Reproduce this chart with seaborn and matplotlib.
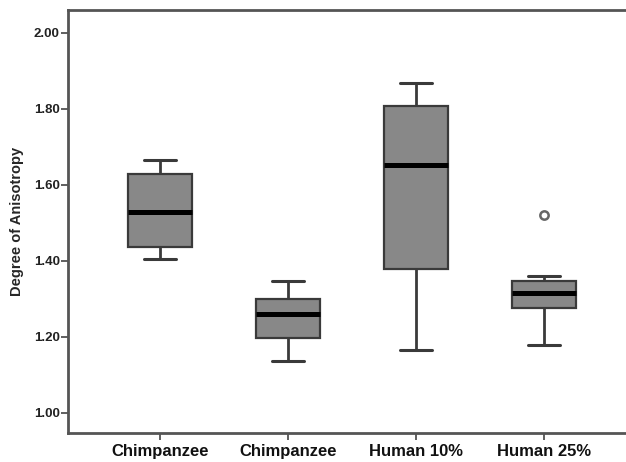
import pandas as pd
import seaborn as sns
import matplotlib.pyplot as plt

# Valores (resumo de cada caixa: min, Q1, mediana, Q3, max)
groups = ['Chimpanzee', 'Chimpanzee ', 'Human 10%', 'Human 25%']
tick_labels = ['Chimpanzee', 'Chimpanzee', 'Human 10%', 'Human 25%']
chimp_a = [1.405, 1.436, 1.530, 1.629, 1.666]
chimp_b = [1.137, 1.197, 1.259, 1.301, 1.346]
human_10 = [1.166, 1.379, 1.652, 1.808, 1.869]
human_25 = [1.179, 1.276, 1.276, 1.315, 1.315, 1.348, 1.348, 1.361, 1.521]

values = [chimp_a, chimp_b, human_10, human_25]
df = pd.DataFrame({
    'group': [g for g, v in zip(groups, values) for _ in v],
    'DA': [x for v in values for x in v],
})

sns.set_style('white')
plt.rcParams['font.family'] = ['Liberation Sans', 'DejaVu Sans']

fig = plt.figure(figsize=(6.26, 4.62), dpi=100)
ax = fig.add_axes([68 / 626, 29 / 462, 568 / 626, 423 / 462])

edge = '#3a3a3a'
sns.boxplot(data=df, x='group', y='DA', order=groups, ax=ax, width=0.5,
            color='#888888', saturation=1, linecolor=edge, linewidth=1.6,
            medianprops=dict(color='black', linewidth=3.6),
            whiskerprops=dict(color=edge, linewidth=2),
            capprops=dict(color=edge, linewidth=2.2),
            flierprops=dict(marker='o', markersize=6, markerfacecolor='white',
                            markeredgecolor='#666666', markeredgewidth=1.8))

ax.set_xlim(-0.72, 3.72)
ax.set_ylim(0.947, 2.0605)
ax.set_yticks([1.0, 1.2, 1.4, 1.6, 1.8, 2.0])
ax.set_yticklabels(['1.00', '1.20', '1.40', '1.60', '1.80', '2.00'],
                   fontsize=9.5, fontweight='bold', color='#222222')
ax.set_xticks(range(4))
ax.set_xticklabels(tick_labels, fontsize=12, fontweight='bold', color='#111111')
ax.tick_params(axis='both', direction='out', length=5, width=1.2, color='#444444',
               bottom=True, left=True)
ax.tick_params(axis='y', pad=1)
ax.tick_params(axis='x', pad=3)
ax.set_xlabel('')
ax.set_ylabel('Degree of Anisotropy', fontsize=10.5, fontweight='bold', labelpad=7)

for s in ax.spines.values():
    s.set_color('#555555')
    s.set_linewidth(2)

fig.savefig('out.png', dpi=100)
